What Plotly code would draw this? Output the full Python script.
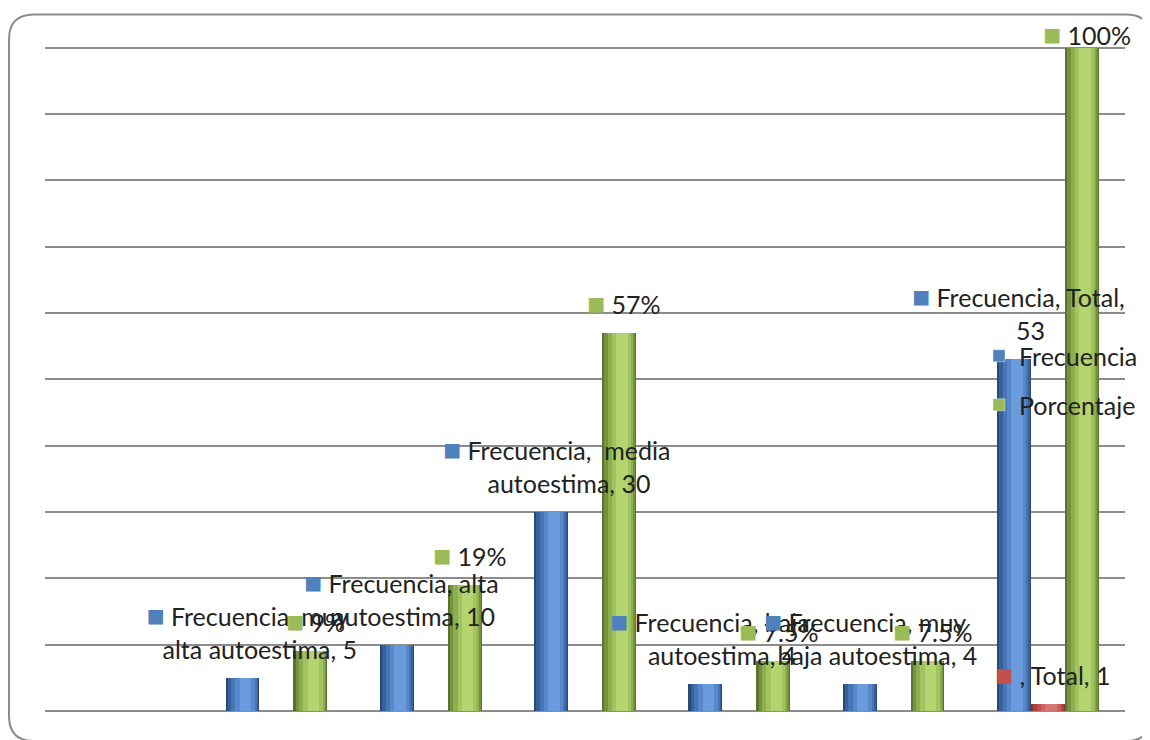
import textwrap
import plotly.graph_objects as go

# ---------------- data ----------------
categories = ["", "muy alta autoestima", "alta autoestima", "media autoestima",
              "baja autoestima", "muy baja autoestima", "Total"]
frecuencia = [None, 5, 10, 30, 4, 4, 53]
porcentaje = [None, 9, 19, 57, 7.5, 7.5, 100]
porcentaje_text = [None, "9%", "19%", "57%", "7.5%", "7.5%", "100%"]
serie_total = [None, None, None, None, None, None, 1]
serie_names = ["Frecuencia", "", "Porcentaje"]

# ---------------- style / geometry (page pixels; figure sits 8px in from page corner) ----------------
OFF = 8
PAGE_W, PAGE_H = 1150, 740
W, H = PAGE_W - OFF, PAGE_H - OFF
PLOT_L, PLOT_R, PLOT_B = 45, 1125, 711      # page pixels
Y100 = 48                                    # page pixel of value 100
YMAX = 101
PLOT_T = PLOT_B - (PLOT_B - Y100) * YMAX / 100
ML, MR = PLOT_L - OFF, W - (PLOT_R - OFF)
MT, MB = PLOT_T - OFF, H - (PLOT_B - OFF)

FONT = "Lato, 'Liberation Sans', Arial, sans-serif"
FS = 25
TXT = "#222222"
BLUE = ["#2a4a74", "#37619a", "#4676b6", "#5888cc", "#6a9bdc"]
RED = ["#8e3331", "#a8403d", "#c0504d", "#cc6360", "#d67573"]
GREEN = ["#5a7430", "#74933d", "#8cae4f", "#a2c460", "#b4d46f"]
KEY = {"Frecuencia": "#4f81bd", "": "#c0504d", "Porcentaje": "#9bbb59"}

n = len(categories)
x = list(range(n))
bw = 0.22                      # bar width in category units
slot_left = [-1.5 * bw, -0.5 * bw, 0.5 * bw]   # left edge of each series slot
px_per_cat = (PLOT_R - PLOT_L) / n
layers = [(0.0, 1.0), (0.07, 0.97), (0.17, 0.92), (0.29, 0.86), (0.42, 0.76)]

fig = go.Figure()
series = [(frecuencia, BLUE, "Frecuencia"), (serie_total, RED, ""), (porcentaje, GREEN, "Porcentaje")]
for si, (vals, cols, name) in enumerate(series):
    for li, (a, b) in enumerate(layers):
        fig.add_trace(go.Bar(
            x=x, y=vals,
            offset=slot_left[si] + a * bw, width=(b - a) * bw,
            marker=dict(color=cols[li], line=dict(width=0)),
            name=name, showlegend=False, hoverinfo="skip",
        ))

fig.add_trace(go.Bar(x=[None], y=[None], name="Frecuencia", marker_color=KEY["Frecuencia"],
                     showlegend=True, legend="legend"))
fig.add_trace(go.Bar(x=[None], y=[None], name="Porcentaje", marker_color=KEY["Porcentaje"],
                     showlegend=True, legend="legend2"))

# ---------------- data labels ----------------
def key_label(color, lines):
    key = f'<span style="color:{color};font-size:30px">■</span> '
    ghost = '<span style="color:rgba(0,0,0,0);font-size:30px">■</span> '
    out = [key + lines[0]] + [ghost + l for l in lines[1:]]
    return "<br>".join(out)

def label_shift(v):
    # labels that would leave the chart area are pushed down (as the original does)
    return 11 if v < 95 else -5

annotations = []
for i in range(n):
    if frecuencia[i] is not None:
        t = f"Frecuencia, {categories[i]}, {frecuencia[i]}"
        lines = textwrap.wrap(t, width=18)
        if categories[i] == "media autoestima":
            lines = ["Frecuencia,  media", f"autoestima, {frecuencia[i]}"]
        annotations.append(dict(x=x[i], y=frecuencia[i], xref="x", yref="y",
                                text=key_label(KEY["Frecuencia"], lines),
                                xshift=(slot_left[0] + bw / 2) * px_per_cat + 5,
                                yshift=label_shift(frecuencia[i]),
                                yanchor="bottom", xanchor="center", align="center", showarrow=False))
    if serie_total[i] is not None:
        annotations.append(dict(x=x[i], y=serie_total[i], xref="x", yref="y",
                                text=key_label(KEY[""], [f"{serie_names[1]}, {categories[i]}, {serie_total[i]}"]),
                                xshift=(slot_left[1] + bw / 2) * px_per_cat + 5,
                                yshift=label_shift(serie_total[i]),
                                yanchor="bottom", xanchor="center", align="center", showarrow=False))
    if porcentaje[i] is not None:
        annotations.append(dict(x=x[i], y=porcentaje[i], xref="x", yref="y",
                                text=key_label(KEY["Porcentaje"], [porcentaje_text[i]]),
                                xshift=(slot_left[2] + bw / 2) * px_per_cat + 5,
                                yshift=label_shift(porcentaje[i]),
                                yanchor="bottom", xanchor="center", align="center", showarrow=False))

# ---------------- rounded border ----------------
def P(px, py):
    a = (px - PLOT_L) / (PLOT_R - PLOT_L)
    b = (PLOT_B - py) / (PLOT_B - PLOT_T)
    return f"{a:.5f},{b:.5f}"

L, T, R, B, RAD = 9, 15, 1151, 741, 25
path = (f"M{P(L, T + RAD)} Q{P(L, T)} {P(L + RAD, T)} L{P(R - RAD, T)} Q{P(R, T)} {P(R, T + RAD)} "
        f"L{P(R, B - RAD)} Q{P(R, B)} {P(R - RAD, B)} L{P(L + RAD, B)} Q{P(L, B)} {P(L, B - RAD)} Z")

LEG_X = 979 - OFF
fig.update_layout(
    width=W, height=H,
    margin=dict(l=ML, r=MR, t=MT, b=MB, autoexpand=False),
    paper_bgcolor="white", plot_bgcolor="white",
    barmode="overlay", bargap=0,
    font=dict(family=FONT, size=FS, color=TXT),
    xaxis=dict(range=[-0.5, n - 0.5], showgrid=False, showticklabels=False, zeroline=False,
               showline=False, ticks=""),
    yaxis=dict(range=[0, YMAX], tickvals=list(range(0, 101, 10)), showgrid=True,
               gridcolor="#8c8c8c", gridwidth=2,
               showticklabels=False, zeroline=True, zerolinecolor="#8c8c8c", zerolinewidth=2,
               showline=False, ticks=""),
    annotations=annotations,
    shapes=[dict(type="path", path=path, xref="paper", yref="paper",
                 line=dict(color="#8c8c8c", width=2), fillcolor="rgba(0,0,0,0)", layer="above")],
    legend=dict(x=LEG_X / W, y=1 - (356 - OFF) / H, xref="container", yref="container",
                xanchor="left", yanchor="middle", bgcolor="rgba(0,0,0,0)",
                font=dict(family=FONT, size=FS, color=TXT)),
    legend2=dict(x=LEG_X / W, y=1 - (405 - OFF) / H, xref="container", yref="container",
                 xanchor="left", yanchor="middle", bgcolor="rgba(0,0,0,0)",
                 font=dict(family=FONT, size=FS, color=TXT)),
)

fig.write_html("out.html")
